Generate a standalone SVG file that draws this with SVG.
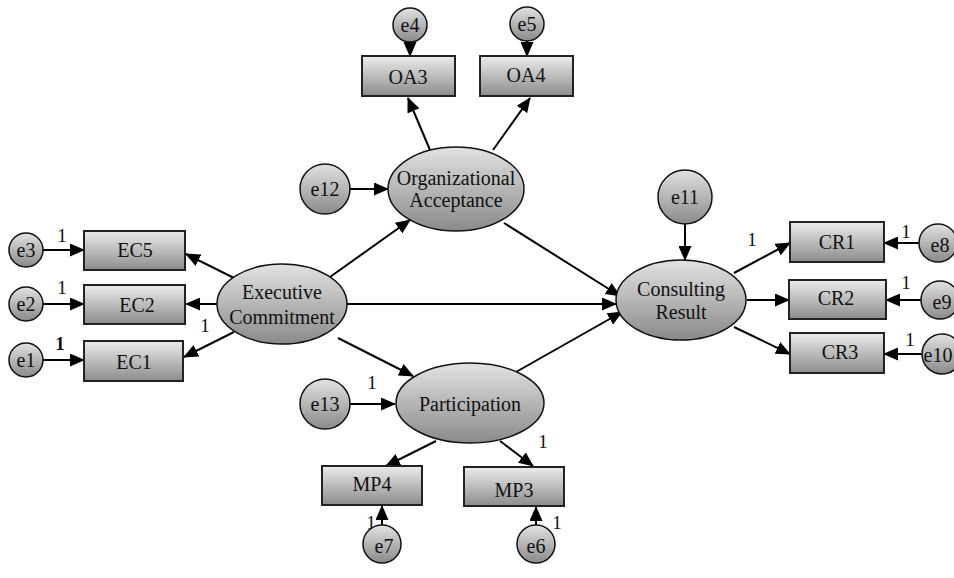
<svg xmlns="http://www.w3.org/2000/svg" width="954" height="578" viewBox="0 0 954 578" font-family="'Liberation Serif', 'Times New Roman', 'DejaVu Serif', serif">
<defs>
<linearGradient id="gBox" x1="0" y1="0" x2="0" y2="1">
<stop offset="0" stop-color="#ececec"/>
<stop offset="1" stop-color="#8c8c8c"/>
</linearGradient>
<linearGradient id="gEll" x1="0" y1="0" x2="0" y2="1">
<stop offset="0" stop-color="#e2e2e2"/>
<stop offset="1" stop-color="#8a8a8a"/>
</linearGradient>
<marker id="arr" markerWidth="15" markerHeight="13" refX="14" refY="6.5" orient="auto" markerUnits="userSpaceOnUse">
<path d="M0,0 L15,6.5 L0,13 Z" fill="#000"/>
</marker>
</defs>
<style>
.box{fill:url(#gBox);stroke:#222;stroke-width:2}
.ell{fill:url(#gEll);stroke:#111;stroke-width:1.5}
text{font-family:"Liberation Serif","Times New Roman","DejaVu Serif",serif}
.t{font-size:20px;fill:#111;text-anchor:middle;dominant-baseline:central}
.one{font-size:19px;fill:#111;text-anchor:middle}
.c line{stroke:#000;stroke-width:2;marker-end:url(#arr)}
</style>
<rect width="954" height="578" fill="#fff"/>

<g id="connectors" class="c">
<line x1="43" y1="250" x2="84" y2="250"/>
<line x1="43" y1="304" x2="84" y2="304"/>
<line x1="43" y1="360" x2="84" y2="360"/>
<line x1="234" y1="278" x2="186" y2="254"/>
<line x1="217" y1="304" x2="186" y2="304"/>
<line x1="234" y1="332" x2="184" y2="357"/>
<line x1="330" y1="277" x2="410" y2="220"/>
<line x1="347" y1="304" x2="616" y2="304"/>
<line x1="338" y1="338" x2="413" y2="376"/>
<line x1="430" y1="150" x2="408" y2="98"/>
<line x1="493" y1="150" x2="530" y2="98"/>
<line x1="504" y1="223" x2="620" y2="296"/>
<line x1="350" y1="189" x2="388" y2="189"/>
<line x1="410" y1="42" x2="410" y2="56"/>
<line x1="527" y1="41" x2="527" y2="56"/>
<line x1="516" y1="372" x2="622" y2="312"/>
<line x1="350" y1="404" x2="395" y2="404"/>
<line x1="436" y1="441" x2="386" y2="466"/>
<line x1="500" y1="441" x2="533" y2="466"/>
<line x1="382" y1="525" x2="382" y2="506"/>
<line x1="536" y1="525" x2="536" y2="507"/>
<line x1="685" y1="224" x2="685" y2="260"/>
<line x1="734" y1="273" x2="790" y2="243"/>
<line x1="747" y1="300" x2="789" y2="300"/>
<line x1="734" y1="327" x2="790" y2="354"/>
<line x1="919" y1="243" x2="884" y2="243"/>
<line x1="921" y1="300" x2="886" y2="300"/>
<line x1="922" y1="354" x2="884" y2="354"/>
</g>

<g id="labels">
<text class="one" x="62" y="242">1</text>
<text class="one" x="62" y="294">1</text>
<text class="one" x="60" y="350" font-weight="bold">1</text>
<text class="one" x="205" y="332">1</text>
<text class="one" x="372" y="389">1</text>
<text class="one" x="543" y="448">1</text>
<text class="one" x="371" y="529">1</text>
<text class="one" x="557" y="529">1</text>
<text class="one" x="752" y="246">1</text>
<text class="one" x="906" y="238">1</text>
<text class="one" x="906" y="289">1</text>
<text class="one" x="910" y="346">1</text>
</g>

<g id="e3"><circle cx="26" cy="250" r="17" class="ell"/><text class="t" x="26" y="250">e3</text></g>
<g id="e2"><circle cx="26" cy="304" r="17" class="ell"/><text class="t" x="26" y="304">e2</text></g>
<g id="e1"><circle cx="26" cy="360" r="17" class="ell"/><text class="t" x="26" y="360">e1</text></g>

<g id="EC5"><rect x="84" y="231" width="101" height="39" class="box"/><text class="t" x="135" y="250">EC5</text></g>
<g id="EC2"><rect x="84" y="285" width="101" height="39" class="box"/><text class="t" x="137" y="305">EC2</text></g>
<g id="EC1"><rect x="84" y="341" width="99" height="40" class="box"/><text class="t" x="134" y="362">EC1</text></g>

<g id="ExecutiveCommitment"><ellipse cx="282" cy="304" rx="65" ry="40" class="ell"/><text class="t" x="282" y="292">Executive</text><text class="t" x="282" y="317">Commitment</text></g>

<g id="e4"><circle cx="410" cy="25" r="17" class="ell"/><text class="t" x="410" y="25">e4</text></g>
<g id="e5"><circle cx="527" cy="24" r="17" class="ell"/><text class="t" x="527" y="24">e5</text></g>
<g id="OA3"><rect x="362" y="56" width="93" height="40" class="box"/><text class="t" x="408" y="77">OA3</text></g>
<g id="OA4"><rect x="480" y="56" width="93" height="40" class="box"/><text class="t" x="526" y="75">OA4</text></g>

<g id="e12"><circle cx="325" cy="189" r="25" class="ell"/><text class="t" x="325" y="189">e12</text></g>
<g id="OrganizationalAcceptance"><ellipse cx="456" cy="189" rx="68" ry="42" class="ell"/><text class="t" x="456" y="178">Organizational</text><text class="t" x="456" y="200">Acceptance</text></g>

<g id="e11"><circle cx="685" cy="197" r="27" class="ell"/><text class="t" x="685" y="197">e11</text></g>
<g id="ConsultingResult"><ellipse cx="681" cy="300" rx="65" ry="40" class="ell"/><text class="t" x="681" y="289">Consulting</text><text class="t" x="681" y="312">Result</text></g>

<g id="CR1"><rect x="790" y="222" width="94" height="40" class="box"/><text class="t" x="837" y="242">CR1</text></g>
<g id="CR2"><rect x="789" y="280" width="97" height="39" class="box"/><text class="t" x="836" y="298">CR2</text></g>
<g id="CR3"><rect x="790" y="333" width="94" height="40" class="box"/><text class="t" x="840" y="352">CR3</text></g>

<g id="e8"><circle cx="938" cy="243" r="19" class="ell"/><text class="t" x="940" y="245">e8</text></g>
<g id="e9"><circle cx="940" cy="300" r="19" class="ell"/><text class="t" x="942" y="302">e9</text></g>
<g id="e10"><circle cx="942" cy="354" r="20" class="ell"/><text class="t" x="938" y="355" font-size="19">e10</text></g>

<g id="e13"><circle cx="325" cy="404" r="25" class="ell"/><text class="t" x="325" y="404">e13</text></g>
<g id="Participation"><ellipse cx="470" cy="403" rx="74" ry="40" class="ell"/><text class="t" x="470" y="404">Participation</text></g>

<g id="MP4"><rect x="322" y="466" width="100" height="39" class="box"/><text class="t" x="372" y="484">MP4</text></g>
<g id="MP3"><rect x="464" y="467" width="100" height="39" class="box"/><text class="t" x="514" y="490">MP3</text></g>

<g id="e7"><circle cx="382" cy="544" r="19" class="ell"/><text class="t" x="384" y="546">e7</text></g>
<g id="e6"><circle cx="536" cy="544" r="19" class="ell"/><text class="t" x="536" y="546">e6</text></g>
</svg>
